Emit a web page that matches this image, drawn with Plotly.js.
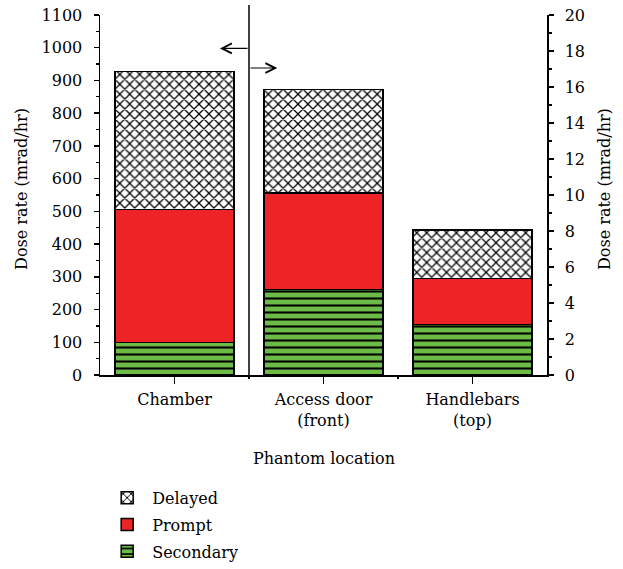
<!DOCTYPE html>
<html>
<head>
<meta charset="utf-8">
<script src="https://cdn.plot.ly/plotly-3.0.1.min.js"></script>
<style>html,body{margin:0;padding:0;background:#fff;}#chart{width:623px;height:569px;}</style>
</head>
<body>
<div id="chart"></div>
<script>
// Categories
const categories = ["Chamber", "Access door", "Handlebars"];
const tickLabels = ["Chamber", "Access door<br>(front)", "Handlebars<br>(top)"];
// Chamber (left axis, mrad/hr)
const leftCats = ["Chamber"];
const leftSecondary = [100];
const leftPrompt = [405];
const leftDelayed = [422];
// Access door & Handlebars (right axis, mrad/hr)
const rightCats = ["Access door", "Handlebars"];
const rightSecondary = [4.75, 2.8];
const rightPrompt = [5.35, 2.57];
const rightDelayed = [5.75, 2.68];

const RED = "#ed2326";
const GREEN = "#6cbb46";
const FONT = "'DejaVu Serif', 'Liberation Serif', serif";
const FS = 16;

const styles = {
  Secondary: {rank: 3, color: GREEN, pattern: {shape: "-", fgcolor: "#000", bgcolor: GREEN, size: 7, solidity: 0.3}},
  Prompt: {rank: 2, color: RED},
  Delayed: {rank: 1, color: "#fff", pattern: {shape: "x", fgcolor: "#000", bgcolor: "#fff", size: 7, solidity: 0.32}}
};

function bar(name, x, y, yaxis, show) {
  const s = styles[name];
  const marker = {color: s.color, line: {color: "#000", width: 1.5}};
  if (s.pattern) marker.pattern = s.pattern;
  return {type: "bar", name: name, x: x, y: y, yaxis: yaxis, width: 0.8, legendrank: s.rank,
          marker: marker, legendgroup: name, showlegend: show, hoverinfo: "skip"};
}

const data = [
  bar("Secondary", leftCats, leftSecondary, "y", true),
  bar("Prompt", leftCats, leftPrompt, "y", true),
  bar("Delayed", leftCats, leftDelayed, "y", true),
  bar("Secondary", rightCats, rightSecondary, "y2", false),
  bar("Prompt", rightCats, rightPrompt, "y2", false),
  bar("Delayed", rightCats, rightDelayed, "y2", false),
  // helper for boundary ticks on the x axis
  {type: "scatter", x: [0.5], y: [0], xaxis: "x2", yaxis: "y", mode: "markers",
   marker: {opacity: 0}, showlegend: false, hoverinfo: "skip"}
];

const titleFont = {family: FONT, size: FS, color: "#000"};

const layout = {
  width: 623, height: 569,
  margin: {l: 100, r: 76, t: 15, b: 194, autoexpand: false},
  paper_bgcolor: "#fff", plot_bgcolor: "#fff",
  barmode: "stack",
  font: {family: FONT, size: FS, color: "#000"},
  showlegend: true,
  legend: {xref: "container", yref: "container", x: 0.164, y: 0.155, xanchor: "left", yanchor: "top",
           traceorder: "grouped",
           font: {family: FONT, size: FS}, itemwidth: 40, tracegroupgap: 3, bgcolor: "rgba(0,0,0,0)"},
  xaxis: {
    type: "category", categoryorder: "array", categoryarray: categories,
    range: [-0.5, 2.5], tickvals: categories, ticktext: tickLabels,
    tickfont: {family: FONT, size: FS},
    showline: true, linecolor: "#000", linewidth: 1.5, mirror: false,
    ticks: "outside", ticklen: 7, tickwidth: 1.5, tickcolor: "#000",
    ticklabelstandoff: 2,
    showgrid: false, zeroline: false
  },
  xaxis2: {
    overlaying: "x", range: [-0.5, 2.5], tickvals: [0.5, 1.5], showticklabels: false,
    ticks: "outside", ticklen: 3, tickwidth: 1.5, tickcolor: "#000",
    showline: false, showgrid: false, zeroline: false, side: "bottom"
  },
  yaxis: {
    range: [0, 1100], dtick: 100, tick0: 0,
    tickfont: {family: FONT, size: FS},
    showline: true, linecolor: "#000", linewidth: 1.5,
    ticks: "outside", ticklen: 5, tickwidth: 1.5, tickcolor: "#000",
    ticklabelstandoff: 8,
    minor: {dtick: 50, ticks: "outside", ticklen: 3, tickwidth: 1.2, tickcolor: "#000", showgrid: false},
    showgrid: false, zeroline: false
  },
  yaxis2: {
    overlaying: "y", side: "right",
    range: [0, 20], dtick: 2, tick0: 0,
    tickfont: {family: FONT, size: FS},
    showline: true, linecolor: "#000", linewidth: 1.5,
    ticks: "outside", ticklen: 5, tickwidth: 1.5, tickcolor: "#000",
    ticklabelstandoff: 8,
    minor: {dtick: 1, ticks: "outside", ticklen: 3, tickwidth: 1.2, tickcolor: "#000", showgrid: false},
    showgrid: false, zeroline: false
  },
  shapes: [
    {type: "line", xref: "x2", yref: "paper", x0: 0.5, x1: 0.5, y0: 0, y1: 1.028,
     line: {color: "#000", width: 1.5}}
  ],
  annotations: [
    {xref: "x2", yref: "y", x: 0.305, y: 998, axref: "x2", ayref: "y", ax: 0.5, ay: 998,
     showarrow: true, arrowhead: 5, arrowsize: 1.6, arrowwidth: 1.2, arrowcolor: "#000", text: ""},
    {xref: "x2", yref: "y", x: 0.69, y: 938, axref: "x2", ayref: "y", ax: 0.5, ay: 938,
     showarrow: true, arrowhead: 5, arrowsize: 1.6, arrowwidth: 1.2, arrowcolor: "#000", text: ""},
    {xref: "paper", yref: "paper", x: -0.1745, y: 0.517, xanchor: "center", yanchor: "middle",
     textangle: -90, showarrow: false, text: "Dose rate (mrad/hr)", font: titleFont},
    {xref: "paper", yref: "paper", x: 1.13, y: 0.517, xanchor: "center", yanchor: "middle",
     textangle: -90, showarrow: false, text: "Dose rate (mrad/hr)", font: titleFont},
    {xref: "paper", yref: "paper", x: 0.5, y: -0.2306, xanchor: "center", yanchor: "middle",
     showarrow: false, text: "Phantom location", font: titleFont}
  ]
};

Plotly.newPlot("chart", data, layout, {displayModeBar: false, staticPlot: true});
</script>
</body>
</html>
